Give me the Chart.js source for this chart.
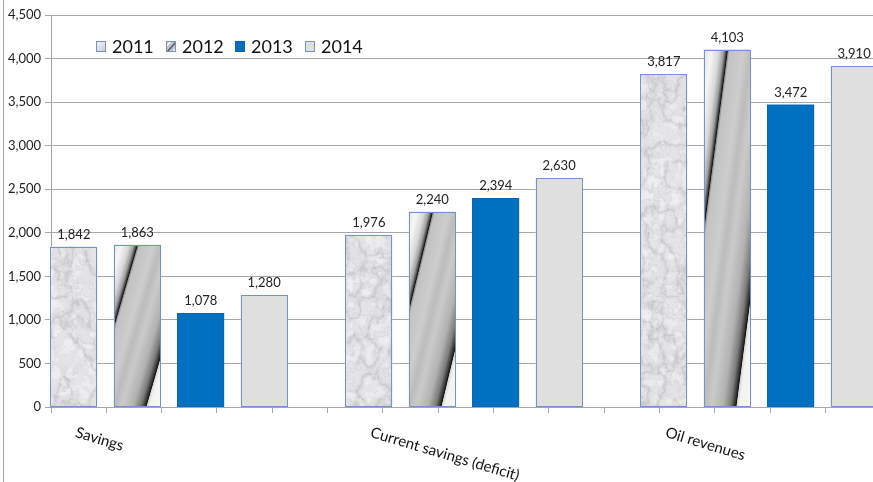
<!DOCTYPE html>
<html><head><meta charset="utf-8">
<script src="https://cdn.jsdelivr.net/npm/chart.js@4.4.0/dist/chart.umd.min.js"></script>
<style>
html,body{margin:0;padding:0;overflow:hidden;background:#fff;width:873px;height:482px}
#wrap{position:relative;width:940px;height:482px}
</style></head>
<body><div id="wrap"><canvas id="c" width="940" height="482"></canvas></div>
<script>
// ---- data ----
const categories = ['Savings', 'Current savings (deficit)', 'Oil revenues'];
const seriesNames = ['2011', '2012', '2013', '2014'];
const values2011 = [1842, 1976, 3817];
const values2012 = [1863, 2240, 4103];
const values2013 = [1078, 2394, 3472];
const values2014 = [1280, 2630, 3910];
const yMin = 0, yMax = 4500, yStep = 500;

const FONT = 'Lato, "Open Sans", sans-serif';
const BORDER = '#6f94cf';
const GRID = '#a6a6a6';

// marble texture (deterministic hash-based value noise)
function hash(ix, iy) {
  const s = Math.sin(ix * 127.1 + iy * 311.7) * 43758.5453;
  return s - Math.floor(s);
}
function vnoise(x, y) {
  const ix = Math.floor(x), iy = Math.floor(y);
  const fx = x - ix, fy = y - iy;
  const ux = fx * fx * (3 - 2 * fx), uy = fy * fy * (3 - 2 * fy);
  const a = hash(ix, iy), b = hash(ix + 1, iy), c = hash(ix, iy + 1), d = hash(ix + 1, iy + 1);
  return a + (b - a) * ux + (c - a) * uy + (a - b - c + d) * ux * uy;
}
function fbm(x, y) {
  let v = 0, amp = 0.5, f = 1;
  for (let o = 0; o < 4; o++) { v += amp * vnoise(x * f, y * f); f *= 2.03; amp *= 0.5; }
  return v / 0.9375;
}
function makeMarble(W, H) {
  const c = document.createElement('canvas'); c.width = W; c.height = H;
  const g = c.getContext('2d');
  const img = g.createImageData(W, H);
  for (let y = 0; y < H; y++) {
    for (let x = 0; x < W; x++) {
      const f1 = fbm(x / 16, y / 22);
      const f2 = fbm(x / 6 + 31.7, y / 6 + 12.3);
      const vein = Math.exp(-Math.abs(f1 - 0.5) * 18);
      const vein2 = Math.exp(-Math.abs(f2 - 0.5) * 24);
      let val = 233 - 26 * vein - 16 * vein2 * (0.4 + f1) + (f2 - 0.5) * 22;
      val = Math.max(165, Math.min(248, val));
      const i = (y * W + x) * 4;
      img.data[i] = val; img.data[i + 1] = val; img.data[i + 2] = val + 3; img.data[i + 3] = 255;
    }
  }
  g.putImageData(img, 0, 0);
  return c;
}
const ctx0 = document.getElementById('c').getContext('2d');
const marble = ctx0.createPattern(makeMarble(940, 430), 'repeat');

const stripeStops = [
  [0.00, '#e4e4e4'], [0.08, '#f6f6f6'], [0.16, '#d8d8d8'], [0.21, '#a0a0a0'],
  [0.235, '#505050'], [0.25, '#121212'], [0.258, '#8c8c8c'], [0.275, '#c2c2c2'],
  [0.42, '#cdcdcd'], [0.50, '#bcbcbc'], [0.58, '#cacaca'], [0.70, '#b2b2b2'],
  [0.78, '#7c7c7c'], [0.825, '#333333'], [0.84, '#111111'], [0.848, '#d6d6d6'],
  [0.875, '#f2f2f2'], [1.00, '#f8f8f8']
];

function barRect(el) {
  const p = el.getProps(['x', 'y', 'base', 'width'], true);
  const l = Math.round(p.x - p.width / 2), r = Math.round(p.x + p.width / 2);
  const t = Math.round(Math.min(p.y, p.base)), b = Math.round(Math.max(p.y, p.base));
  return { l, t, w: r - l, h: b - t };
}

const deco = {
  id: 'deco',
  beforeDraw(chart) {
    const ctx = chart.ctx;
    ctx.save();
    ctx.fillStyle = '#fff'; ctx.fillRect(0, 0, chart.width, chart.height);
    ctx.fillStyle = GRID; ctx.fillRect(3, 0, 1, chart.height);
    ctx.restore();
  },
  afterDatasetDraw(chart, args) {
    const ctx = chart.ctx;
    ctx.save();
    chart.getDatasetMeta(args.index).data.forEach(el => {
      const R = barRect(el);
      if (args.index === 1) {
        const dx = 1 / (2 * R.w), dy = 1 / (2 * R.h), m = dx * dx + dy * dy;
        const g = ctx.createLinearGradient(R.l, R.t, R.l + dx / m, R.t + dy / m);
        stripeStops.forEach(s => g.addColorStop(s[0], s[1]));
        ctx.fillStyle = g; ctx.fillRect(R.l, R.t, R.w, R.h);
      }
      ctx.strokeStyle = args.index === 2 ? '#0a64b0' : BORDER; ctx.lineWidth = 1;
      ctx.strokeRect(R.l + 0.5, R.t + 0.5, R.w - 1, R.h - 1);
    });
    ctx.restore();
  },
  afterDraw(chart) {
    const ctx = chart.ctx, ca = chart.chartArea, xs = chart.scales.x;
    ctx.save();
    // value labels
    ctx.font = '13px ' + FONT; ctx.fillStyle = '#222'; ctx.textAlign = 'center'; ctx.textBaseline = 'alphabetic';
    chart.data.datasets.forEach((ds, di) => {
      chart.getDatasetMeta(di).data.forEach((el, i) => {
        const v = ds.data[i].y;
        ctx.fillText(v.toLocaleString('en-US'), el.x, el.y - 8);
      });
    });
    // category labels (rotated)
    ctx.font = '15px ' + FONT; ctx.fillStyle = '#111'; ctx.textAlign = 'left'; ctx.textBaseline = 'top';
    categories.forEach((c, i) => {
      const px = xs.getPixelForValue(i) - 91;
      ctx.save();
      ctx.translate(px, ca.bottom + 18);
      ctx.rotate(16.5 * Math.PI / 180);
      ctx.fillText(c, 0, 0);
      ctx.restore();
    });
    // legend
    const lx = ca.left + 45, ly = 46;
    ctx.font = '18px ' + FONT; ctx.textBaseline = 'middle'; ctx.textAlign = 'left';
    seriesNames.forEach((s, i) => {
      const bx = Math.round(lx + i * 69.7), by = ly - 5;
      if (i === 0) {
        const g = ctx.createLinearGradient(bx, by, bx + 10, by + 11);
        g.addColorStop(0, '#f6f6f6'); g.addColorStop(1, '#c6c8cc');
        ctx.fillStyle = g; ctx.fillRect(bx, by, 10, 11);
      } else if (i === 1) {
        ctx.fillStyle = '#c4c4c4'; ctx.fillRect(bx, by, 10, 11);
        ctx.save(); ctx.beginPath(); ctx.rect(bx, by, 10, 11); ctx.clip();
        ctx.strokeStyle = '#555'; ctx.lineWidth = 1.5;
        ctx.beginPath(); ctx.moveTo(bx + 1, by + 11); ctx.lineTo(bx + 10, by + 1); ctx.stroke();
        ctx.strokeStyle = '#fafafa'; ctx.lineWidth = 1.5;
        ctx.beginPath(); ctx.moveTo(bx - 3, by + 9); ctx.lineTo(bx + 6, by - 1); ctx.stroke();
        ctx.beginPath(); ctx.moveTo(bx + 5, by + 13); ctx.lineTo(bx + 14, by + 3); ctx.stroke();
        ctx.restore();
      } else if (i === 2) {
        ctx.fillStyle = '#0070c0'; ctx.fillRect(bx, by, 10, 11);
      } else {
        ctx.fillStyle = '#dfdfdf'; ctx.fillRect(bx, by, 10, 11);
      }
      ctx.strokeStyle = i === 2 ? '#0a64b0' : BORDER; ctx.lineWidth = 1;
      ctx.strokeRect(bx + 0.5, by + 0.5, 9, 10);
      ctx.fillStyle = '#111';
      ctx.fillText(s, bx + 16, ly + 1);
    });
    ctx.restore();
  }
};

const toPoints = arr => arr.map((v, i) => ({ x: i, y: v }));
const seriesValues = [values2011, values2012, values2013, values2014];
const fills = [marble, '#c8c8c8', '#0070c0', '#dfdfdf'];

new Chart(document.getElementById('c'), {
  type: 'bar',
  data: {
    datasets: seriesNames.map((n, k) => ({
      label: n,
      data: toPoints(seriesValues[k]),
      backgroundColor: fills[k],
      borderWidth: 0,
      categoryPercentage: 0.86,
      barPercentage: 0.74
    }))
  },
  options: {
    responsive: false,
    animation: false,
    events: [],
    layout: { padding: { left: 0, right: 4, top: 15, bottom: 69 } },
    plugins: { legend: { display: false }, tooltip: { enabled: false } },
    scales: {
      x: {
        type: 'linear', min: -0.4, max: 2.6, display: false,
        afterBuildTicks: s => { s.ticks = []; }
      },
      x2: {
        type: 'linear', position: 'bottom', min: 0, max: 15,
        ticks: { display: false, stepSize: 1 },
        grid: { drawOnChartArea: false, drawTicks: true, tickLength: 6, color: GRID },
        border: { color: GRID }
      },
      y: {
        min: yMin, max: yMax,
        ticks: { stepSize: yStep, font: { family: FONT, size: 13 }, color: '#222', padding: 4 },
        grid: { color: GRID, tickLength: 6 },
        border: { color: GRID },
        afterFit: s => { s.width = 51; }
      }
    }
  },
  plugins: [deco]
});
</script>
</body></html>
